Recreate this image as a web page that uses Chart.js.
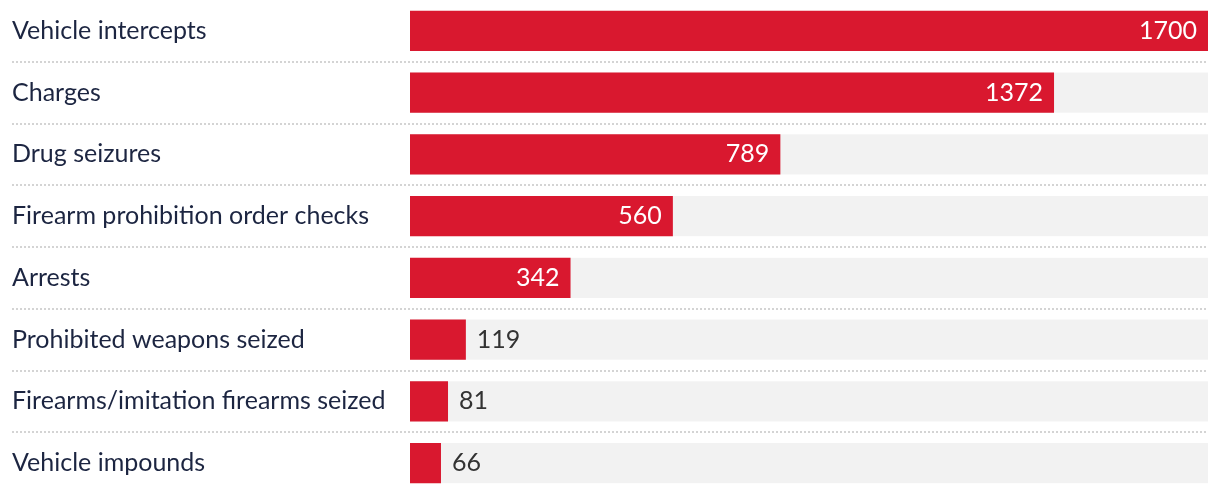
<!DOCTYPE html>
<html>
<head>
<meta charset="utf-8">
<script src="https://cdn.jsdelivr.net/npm/chart.js@4"></script>
<style>
  html, body { margin: 0; padding: 0; background: #fff; }
  #wrap { width: 1220px; height: 494px; }
</style>
</head>
<body>
<div id="wrap"><canvas id="myChart"></canvas></div>
<script>
const categories = [
  'Vehicle intercepts',
  'Charges',
  'Drug seizures',
  'Firearm prohibition order checks',
  'Arrests',
  'Prohibited weapons seized',
  'Firearms/imitation firearms seized',
  'Vehicle impounds'
];
const values = [1700, 1372, 789, 560, 342, 119, 81, 66];
const axisMax = 1700;

const FONT = 'Lato, "Open Sans", sans-serif';

// grey tracks, dotted separators, category labels and value labels
const rowDecor = {
  id: 'rowDecor',
  beforeDatasetsDraw(chart) {
    const { ctx, chartArea, scales } = chart;
    const meta = chart.getDatasetMeta(0);
    ctx.save();
    meta.data.forEach(bar => {
      ctx.fillStyle = '#f2f2f2';
      ctx.fillRect(chartArea.left, bar.y - bar.height / 2, chartArea.right - chartArea.left, bar.height);
    });
    ctx.strokeStyle = '#d4d4d4';
    ctx.lineWidth = 2;
    ctx.setLineDash([2, 2]);
    for (let i = 0; i < categories.length - 1; i++) {
      const y = Math.round((scales.y.getPixelForValue(i) + scales.y.getPixelForValue(i + 1)) / 2);
      ctx.beginPath();
      ctx.moveTo(12, y);
      ctx.lineTo(chartArea.right, y);
      ctx.stroke();
    }
    ctx.restore();
  },
  afterDatasetsDraw(chart) {
    const { ctx } = chart;
    const meta = chart.getDatasetMeta(0);
    ctx.save();
    ctx.font = '25px ' + FONT;
    ctx.textBaseline = 'middle';
    meta.data.forEach((bar, i) => {
      ctx.fillStyle = '#1c2541';
      ctx.textAlign = 'left';
      ctx.fillText(categories[i], 12, bar.y);
      const w = bar.x - bar.base;
      const txt = String(values[i]);
      if (w > 100) {
        ctx.fillStyle = '#ffffff';
        ctx.textAlign = 'right';
        ctx.fillText(txt, bar.x - 11, bar.y);
      } else {
        ctx.fillStyle = '#333333';
        ctx.textAlign = 'left';
        ctx.fillText(txt, bar.x + 11, bar.y);
      }
    });
    ctx.restore();
  }
};

const ctx = document.getElementById('myChart').getContext('2d');
const chart = new Chart(ctx, {
  type: 'bar',
  data: {
    labels: categories,
    datasets: [{
      data: values,
      backgroundColor: '#d9182f',
      borderWidth: 0,
      barPercentage: 0.65,
      categoryPercentage: 1
    }]
  },
  options: {
    indexAxis: 'y',
    responsive: true,
    maintainAspectRatio: false,
    animation: false,
    layout: { padding: { left: 410, right: 12, top: -1, bottom: 0 } },
    plugins: {
      legend: { display: false },
      tooltip: { enabled: false }
    },
    scales: {
      x: { display: false, min: 0, max: axisMax },
      y: { display: false }
    }
  },
  plugins: [rowDecor]
});
</script>
</body>
</html>
